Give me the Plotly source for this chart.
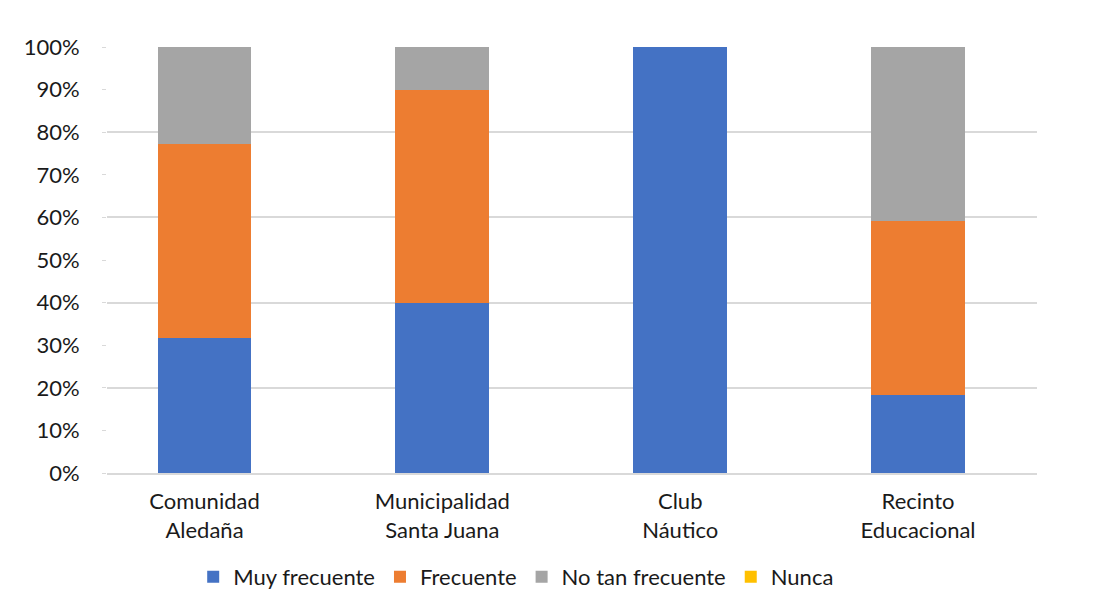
import plotly.graph_objects as go

# Categories (two-line labels) and share of responses per frequency level
categorias = ["Comunidad<br>Aledaña", "Municipalidad<br>Santa Juana", "Club<br>Náutico", "Recinto<br>Educacional"]
muy_frecuente = [31.8, 40.0, 100.0, 18.2]
frecuente = [45.5, 50.0, 0.0, 40.9]
no_tan_frecuente = [22.7, 10.0, 0.0, 40.9]
nunca = [0.0, 0.0, 0.0, 0.0]

series = [
    ("Muy frecuente", muy_frecuente, "#4472C4"),
    ("Frecuente", frecuente, "#ED7D31"),
    ("No tan frecuente", no_tan_frecuente, "#A5A5A5"),
    ("Nunca", nunca, "#FFC000"),
]

fig = go.Figure()
for nombre, valores, color in series:
    fig.add_trace(go.Bar(
        x=categorias,
        y=[v / 100 for v in valores],
        name=nombre,
        marker=dict(color=color, line=dict(width=0)),
        width=0.395,
    ))

font_family = "Lato, 'Open Sans', sans-serif"
text_color = "#1a1a1a"

fig.update_layout(
    barmode="stack",
    width=1095,
    height=589,
    paper_bgcolor="white",
    plot_bgcolor="white",
    margin=dict(l=107, r=58, t=47, b=116, autoexpand=False),
    font=dict(family=font_family, size=22, color=text_color),
    showlegend=True,
    legend=dict(
        orientation="h",
        x=0.44,
        xanchor="center",
        y=-0.244,
        yanchor="middle",
        font=dict(size=22, color=text_color),
        tracegroupgap=0,
        traceorder="normal",
        entrywidthmode="pixels",
    ),
)

fig.update_xaxes(
    range=[-0.41, 3.5],
    showgrid=False,
    showline=True,
    linecolor="#d9d9d9",
    linewidth=1.5,
    ticks="",
    ticklabelstandoff=8,
    tickfont=dict(size=22, color=text_color),
)

fig.update_yaxes(
    range=[0, 1.0],
    tickvals=[i / 10 for i in range(11)],
    ticktext=[f"{i * 10}%" for i in range(11)],
    tickfont=dict(size=22, color=text_color),
    ticks="outside",
    ticklen=4,
    tickcolor="#d9d9d9",
    ticklabelstandoff=18,
    showgrid=False,
    zeroline=False,
    showline=False,
    minor=dict(tickvals=[i / 5 for i in range(6)], showgrid=True, gridcolor="#d9d9d9", gridwidth=1.5, ticks=""),
)

fig.write_html("out.html")
